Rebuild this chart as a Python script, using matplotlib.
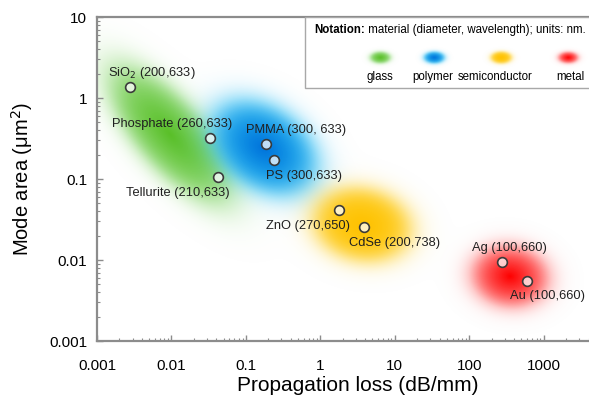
import numpy as np
import matplotlib
matplotlib.use("Agg")
import matplotlib.pyplot as plt
from matplotlib import ticker
from matplotlib.patches import Rectangle

plt.rcParams['font.family'] = ['Liberation Sans', 'DejaVu Sans']

# fibre data: propagation loss (dB/mm) and mode area (um^2)
labels = ["SiO$_2$ (200,633)", "Phosphate (260,633)", "Tellurite (210,633)",
          "PMMA (300, 633)", "PS (300,633)", "ZnO (270,650)",
          "CdSe (200,738)", "Ag (100,660)", "Au (100,660)"]
loss = [0.0028, 0.033, 0.042, 0.185, 0.24, 1.77, 3.8, 275, 590]
area = [1.37, 0.32, 0.106, 0.27, 0.172, 0.041, 0.0255, 0.0094, 0.0055]

# label placement (offset in pixels, alignment)
label_pos = [((22, 14), 'center'), ((22, 14), 'right'), ((12, -16), 'right'),
             ((-20, 14), 'left'), ((-8, -16), 'left'), ((11, -16), 'right'),
             ((-15, -16), 'left'), ((-30, 14), 'left'), ((-17, -15), 'left')]

# material groups: centre (loss, area)
groups = ["glass", "polymer", "semiconductor", "metal"]
group_loss = [0.0095, 0.17, 3.6, 350]
group_area = [0.35, 0.24, 0.027, 0.0062]
# shape in pixels: semi-axes, angle; inner / outer colour
group_shape = [(114, 46, -49), (78, 54, -35), (65, 48, -12), (53, 42, -8)]
group_inner = [(0.35, 0.75, 0.15), (0.0, 0.45, 0.86), (1.0, 0.76, 0.0), (1.0, 0.0, 0.0)]
group_outer = [(0.55, 0.85, 0.45), (0.1, 0.72, 0.95), (1.0, 0.8, 0.1), (1.0, 0.5, 0.5)]

xmin, xmax = 1e-3, 1e4
ymin, ymax = 1e-3, 1e1

fig = plt.figure(figsize=(5.89, 4.01), dpi=100)
ax = fig.add_axes([0.1647, 0.1496, 0.885, 0.808])
W = 0.885 * 589
H = 0.808 * 401

ny, nx = 330, 530
gx, gy = np.meshgrid(np.linspace(0, W, nx), np.linspace(0, H, ny))


def add_blob(img, px, py, a, b, ang, inner, outer, edge=0.74, soft=0.12):
    th = np.deg2rad(ang)
    dx, dy = gx - px, gy - py
    u = dx * np.cos(th) + dy * np.sin(th)
    v = -dx * np.sin(th) + dy * np.cos(th)
    t = np.sqrt((u / a) ** 2 + (v / b) ** 2)
    alpha = 1 / (1 + np.exp((t - edge) / soft))
    w = np.clip(t / 0.8, 0, 1)[..., None]
    col = np.array(inner) * (1 - w) + np.array(outer) * w
    al = alpha[..., None]
    old_a = img[..., 3:]
    new_a = al + old_a * (1 - al)
    safe = np.where(new_a > 0, new_a, 1)
    img[..., :3] = (col * al + img[..., :3] * old_a * (1 - al)) / safe
    img[..., 3:] = new_a


def to_px(xv, yv):
    fx = (np.log10(xv) - np.log10(xmin)) / (np.log10(xmax) - np.log10(xmin))
    fy = (np.log10(yv) - np.log10(ymin)) / (np.log10(ymax) - np.log10(ymin))
    return fx * W, fy * H


blobs = np.zeros((ny, nx, 4))
blobs[..., :3] = 1
for i in range(len(groups)):
    px, py = to_px(group_loss[i], group_area[i])
    a, b, ang = group_shape[i]
    add_blob(blobs, px, py, a, b, ang, group_inner[i], group_outer[i])
ax.imshow(blobs, extent=(0, 1, 0, 1), transform=ax.transAxes, origin='lower',
          aspect='auto', interpolation='bilinear', zorder=1)

# notation box
box_x0 = (305 - 97) / W
box_y0 = (341 - 88) / H
ax.add_patch(Rectangle((box_x0, box_y0), 1 - box_x0, 1 - box_y0, transform=ax.transAxes,
                       facecolor='white', edgecolor='#a8a8a8', lw=1, zorder=3))
t1 = ax.text((314 - 97) / W, (341 - 30) / H, "Notation:", transform=ax.transAxes,
             fontsize=8.3, fontweight='bold', va='center', zorder=5)
ax.annotate(" material (diameter, wavelength); units: nm.", xy=(1, 0.5), xycoords=t1,
            va='center', fontsize=8.3, zorder=5)

key = np.zeros((ny, nx, 4))
key[..., :3] = 1
key_x = [380, 434, 501, 568]
key_lab_x = [380, 433, 495, 570]
for i in range(len(groups)):
    add_blob(key, key_x[i] - 97, 341 - 58, 14, 8, 0, group_inner[i], group_outer[i],
             edge=0.72, soft=0.12)
    ax.text((key_lab_x[i] - 97) / W, (341 - 77) / H, groups[i], transform=ax.transAxes,
            fontsize=8.3, ha='center', va='center', zorder=5)
ax.imshow(key, extent=(0, 1, 0, 1), transform=ax.transAxes, origin='lower',
          aspect='auto', interpolation='bilinear', zorder=4)

# measured points
ax.plot(loss, area, 'o', ms=7, mfc=(1, 1, 1, 0.75), mec='#3a3a3a', mew=1.2,
        ls='none', zorder=6)
for i, lab in enumerate(labels):
    off, ha = label_pos[i]
    ax.annotate(lab, (loss[i], area[i]), xytext=off, textcoords='offset pixels',
                ha=ha, va='center', fontsize=9.3, color='#202020', zorder=7)

ax.set_xscale('log')
ax.set_yscale('log')
ax.set_xlim(xmin, xmax)
ax.set_ylim(ymin, ymax)
fmt = ticker.FuncFormatter(lambda v, p: f"{v:g}" if v <= 1000 else "")
ax.xaxis.set_major_formatter(fmt)
ax.yaxis.set_major_formatter(fmt)
ax.xaxis.set_minor_formatter(ticker.NullFormatter())
ax.yaxis.set_minor_formatter(ticker.NullFormatter())

for s in ax.spines.values():
    s.set_color('#8c8c8c')
    s.set_linewidth(1.6)
ax.spines['right'].set_visible(False)
ax.tick_params(which='both', direction='in', color='#8c8c8c', top=False, right=False)
ax.tick_params(which='major', length=4, width=1, labelsize=11)
ax.tick_params(which='minor', length=2.5, width=0.8)
ax.tick_params(axis='x', which='major', pad=13)
ax.tick_params(axis='y', which='major', pad=7)

ax.set_xlabel("Propagation loss (dB/mm)", fontsize=15, labelpad=2)
ax.set_ylabel("Mode area (μm$^2$)", fontsize=14.5, labelpad=10)

fig.savefig("out.png", dpi=100)
